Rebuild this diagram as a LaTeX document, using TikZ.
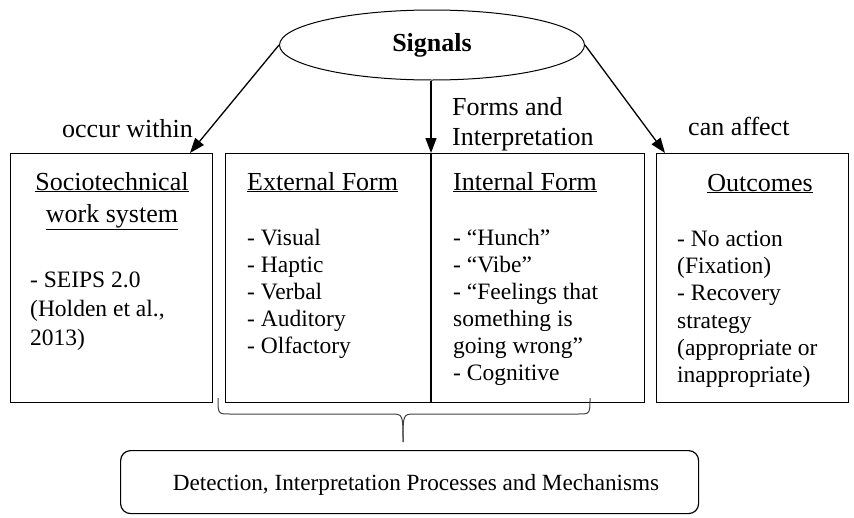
\documentclass[tikz,border=0pt]{standalone}
\usepackage{fontspec}
\setmainfont{Liberation Serif}
\usetikzlibrary{arrows.meta,shapes.geometric}
\begin{document}
\begin{tikzpicture}[x=1pt,y=-1pt,
  box/.style={draw, line width=1.1pt, inner sep=0pt, anchor=north west},
  arr/.style={line width=1.3pt, -{Triangle[length=15pt,width=11pt]}},
  head/.style={font=\fontsize{26}{30}\selectfont, inner sep=0pt},
  li/.style={font=\fontsize{23.5}{27.5}\selectfont, inner sep=0pt, anchor=base west},
]
\useasboundingbox (0,0) rectangle (854,517);
% boxes
\node[box, minimum width=202pt, minimum height=249pt] (soc) at (10,153) {};
\node[box, minimum width=419pt, minimum height=249pt] (mid) at (225,153) {};
\node[box, minimum width=192pt, minimum height=249pt] (out) at (656,153) {};
\coordinate (dtop) at (431,153);
\coordinate (dbot) at (431,402);
\draw[line width=1.3pt] (dtop) -- (dbot);
% signals
\node[draw, ellipse, line width=1pt, minimum width=305pt, minimum height=70pt, font=\fontsize{26}{30}\selectfont\bfseries] (sig) at (432,45) {Signals};
\coordinate (la) at (190,153);
\coordinate (ra) at (665,153);
\draw[arr] (sig.west) -- (la);
\draw[arr] (sig.south -| dtop) -- (dtop);
\draw[arr] (sig.east) -- (ra);
% labels
\node[head, anchor=base west] (l1) at (62,137) {occur within};
\node[head, anchor=base west] (l2) at (452,115) {Forms and};
\node[head, anchor=base west] (l3) at (452,145) {Interpretation};
\node[head, anchor=base west] (l4) at (688,135) {can affect};
% left box
\node[head, anchor=base] (h1) at (112,190) {\underline{Sociotechnical}};
\node[head, anchor=base] (h2) at (112,222) {\underline{work system}};
\node[li] (s1) at (30,287) {- SEIPS 2.0};
\node[li] (s2) at (30,316) {(Holden et al.,};
\node[li] (s3) at (30,345) {2013)};
% external
\node[head, anchor=base west] (h3) at (247,190) {\underline{External Form}};
\node[li] (e1) at (247,245) {- Visual};
\node[li] (e2) at (247,272) {- Haptic};
\node[li] (e3) at (247,299) {- Verbal};
\node[li] (e4) at (247,326) {- Auditory};
\node[li] (e5) at (247,353) {- Olfactory};
% internal
\node[head, anchor=base west] (h4) at (453,190) {\underline{Internal Form}};
\node[li] (i1) at (453,245) {- “Hunch”};
\node[li] (i2) at (453,272) {- “Vibe”};
\node[li] (i3) at (453,299) {- “Feelings that};
\node[li] (i4) at (453,326) {something is};
\node[li] (i5) at (453,353) {going wrong”};
\node[li] (i6) at (453,380) {- Cognitive};
% outcomes
\node[head, anchor=base] (h5) at (760,191) {\underline{Outcomes}};
\node[li] (o1) at (677,246) {- No action};
\node[li] (o2) at (677,273) {(Fixation)};
\node[li] (o3) at (677,300) {- Recovery};
\node[li] (o4) at (677,328) {strategy};
\node[li] (o5) at (677,355) {(appropriate or};
\node[li] (o6) at (677,382) {inappropriate)};
% brace
\draw[line width=1pt, black!75] (218,398) .. controls (218,414) .. (230,414) -- (391,414) .. controls (403,414) .. (403,442);
\draw[line width=1pt, black!75] (590,398) .. controls (590,414) .. (578,414) -- (415,414) .. controls (403,414) .. (403,442);
% bottom
\node[box, rounded corners=10pt, line width=1.2pt, minimum width=578pt, minimum height=63pt] (det) at (120,450) {};
\node[li, anchor=base, font=\fontsize{23.2}{27}\selectfont] (dt) at (416,490) {Detection, Interpretation Processes and Mechanisms};
\end{tikzpicture}
\end{document}
